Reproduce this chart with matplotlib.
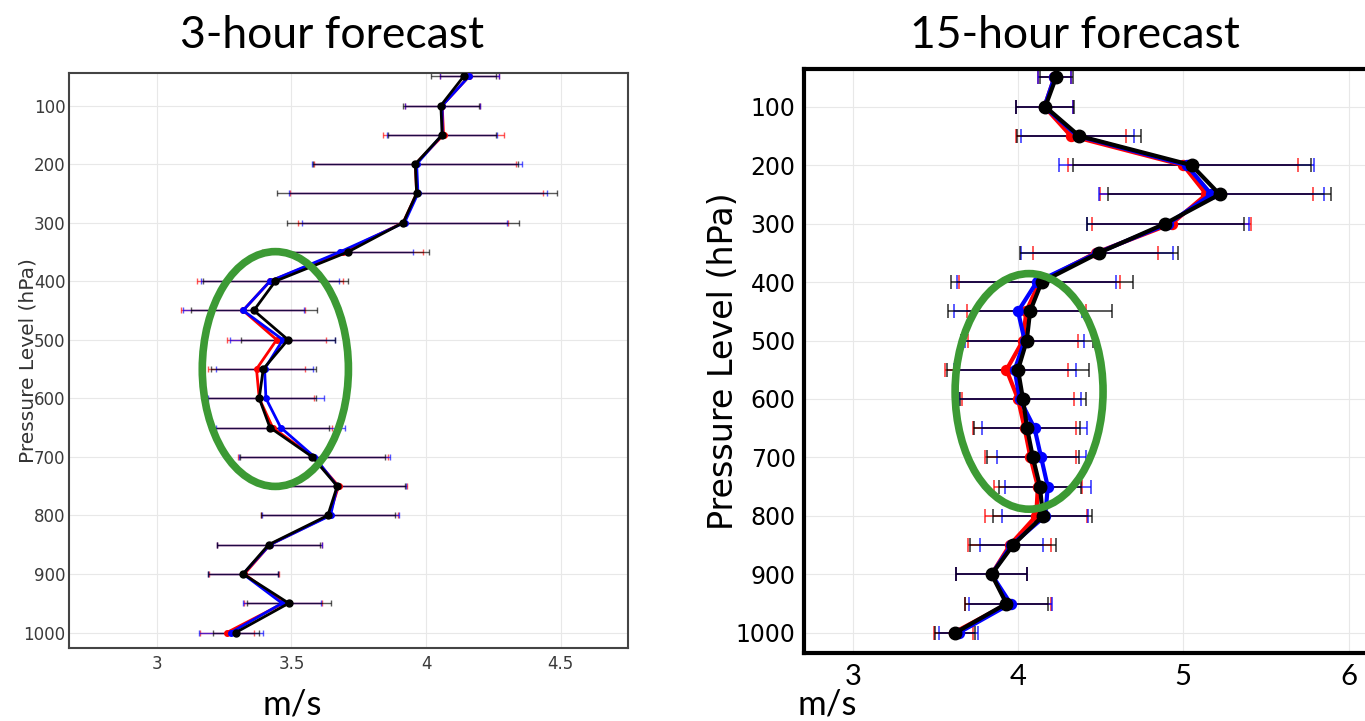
import numpy as np
import matplotlib.pyplot as plt
from matplotlib.patches import Ellipse

levels = np.arange(50, 1001, 50)

# 3-hour forecast (m/s)
red_3h = [4.16, 4.06, 4.065, 3.96, 3.965, 3.915, 3.69, 3.42, 3.32, 3.445,
          3.37, 3.38, 3.43, 3.58, 3.675, 3.64, 3.42, 3.325, 3.47, 3.26]
blue_3h = [4.16, 4.06, 4.06, 3.965, 3.97, 3.92, 3.68, 3.42, 3.32, 3.468,
           3.40, 3.405, 3.46, 3.585, 3.67, 3.645, 3.42, 3.32, 3.465, 3.275]
black_3h = [4.14, 4.055, 4.06, 3.96, 3.965, 3.915, 3.71, 3.44, 3.36, 3.487,
            3.395, 3.38, 3.42, 3.577, 3.67, 3.635, 3.415, 3.32, 3.49, 3.293]
red_3h_err = [0.11, 0.14, 0.225, 0.375, 0.47, 0.39, 0.30, 0.27, 0.23, 0.185,
              0.18, 0.205, 0.22, 0.28, 0.255, 0.255, 0.195, 0.13, 0.145, 0.10]
blue_3h_err = [0.11, 0.14, 0.205, 0.39, 0.48, 0.38, 0.27, 0.255, 0.225, 0.195,
               0.18, 0.215, 0.24, 0.28, 0.255, 0.255, 0.195, 0.13, 0.145, 0.12]
black_3h_err = [0.12, 0.14, 0.20, 0.38, 0.52, 0.43, 0.30, 0.27, 0.235, 0.175,
                0.195, 0.21, 0.22, 0.27, 0.25, 0.25, 0.19, 0.13, 0.155, 0.085]

# 15-hour forecast (m/s)
red_15h = [4.22, 4.16, 4.32, 5.0, 5.14, 4.93, 4.47, 4.13, 4.05, 4.03,
           3.93, 4.0, 4.04, 4.075, 4.12, 4.11, 3.95, 3.84, 3.94, 3.61]
blue_15h = [4.22, 4.16, 4.36, 5.02, 5.17, 4.91, 4.48, 4.113, 4.0, 4.04,
            3.98, 4.01, 4.10, 4.14, 4.18, 4.165, 3.96, 3.84, 3.955, 3.64]
black_15h = [4.23, 4.165, 4.37, 5.05, 5.22, 4.89, 4.49, 4.143, 4.073, 4.053,
             4.0, 4.03, 4.055, 4.09, 4.133, 4.15, 3.97, 3.84, 3.93, 3.62]
red_15h_err = [0.10, 0.175, 0.335, 0.695, 0.645, 0.48, 0.38, 0.485, 0.36, 0.33,
               0.37, 0.34, 0.31, 0.275, 0.265, 0.31, 0.25, 0.215, 0.26, 0.12]
blue_15h_err = [0.10, 0.175, 0.34, 0.77, 0.68, 0.49, 0.46, 0.48, 0.39, 0.36,
                0.37, 0.37, 0.32, 0.27, 0.26, 0.26, 0.19, 0.215, 0.25, 0.12]
black_15h_err = [0.10, 0.175, 0.375, 0.72, 0.675, 0.475, 0.48, 0.55, 0.495, 0.40,
                 0.43, 0.38, 0.32, 0.28, 0.25, 0.30, 0.26, 0.215, 0.25, 0.12]

green = '#3c9a34'
narrow = ['Liberation Sans Narrow', 'DejaVu Sans']
title_font = ['Lato', 'DejaVu Sans']


def draw_panel(ax, series, errs, lw, ms, cap, elw):
    colors = ['red', 'blue', 'black']
    for vals, err, c in zip(series, errs, colors):
        ax.errorbar(vals, levels, xerr=err, fmt='none', ecolor=c,
                    elinewidth=elw, capsize=cap, capthick=elw, alpha=0.65,
                    zorder=2)
    for vals, c in zip(series, colors):
        ax.plot(vals, levels, color=c, lw=lw, marker='o',
                ms=ms if c == 'black' else ms * 0.8, zorder=3)
    ax.grid(True, color='#e8e8e8', lw=0.8)
    ax.set_axisbelow(True)
    ax.tick_params(length=0)


fig = plt.figure(figsize=(13.65, 7.21), dpi=100)

# left panel: 3-hour forecast
ax1 = fig.add_axes([0.0505, 0.1008, 0.4095, 0.7983])
draw_panel(ax1, [red_3h, blue_3h, black_3h],
           [red_3h_err, blue_3h_err, black_3h_err],
           lw=2.0, ms=5, cap=2, elw=1.0)
ax1.set_xlim(2.673, 4.75)
ax1.set_ylim(1027, 44)
ax1.set_yticks(np.arange(100, 1001, 100))
ax1.set_xticks([3, 3.5, 4, 4.5])
ax1.set_xticklabels(['3', '3.5', '4', '4.5'])
for lab in ax1.get_xticklabels() + ax1.get_yticklabels():
    lab.set_family(narrow)
    lab.set_fontsize(12)
    lab.set_color('#3a3a3a')
ax1.tick_params(axis='x', pad=5)
ax1.tick_params(axis='y', pad=2.5)
for s in ax1.spines.values():
    s.set_color('#444444')
    s.set_linewidth(1.5)
ax1.set_ylabel('Pressure Level (hPa)', fontsize=14.5, color='#333333')
ax1.yaxis.set_label_coords(-0.057, 0.5)
ax1.add_patch(Ellipse((3.44, 550), 0.543, 401, fill=False, ec=green, lw=5.5,
                      zorder=4, clip_on=False))

# right panel: 15-hour forecast
ax2 = fig.add_axes([0.589, 0.0939, 0.4147, 0.81])
draw_panel(ax2, [red_15h, blue_15h, black_15h],
           [red_15h_err, blue_15h_err, black_15h_err],
           lw=3.0, ms=9, cap=5, elw=1.4)
ax2.set_xlim(2.705, 6.13)
ax2.set_ylim(1035, 36)
ax2.set_yticks(np.arange(100, 1001, 100))
ax2.set_xticks([3, 4, 5, 6])
for lab in ax2.get_yticklabels():
    lab.set_fontsize(17)
for lab in ax2.get_xticklabels():
    lab.set_family(title_font)
    lab.set_fontsize(21)
ax2.tick_params(axis='x', pad=8)
ax2.tick_params(axis='y', pad=6)
for s in ax2.spines.values():
    s.set_color('black')
    s.set_linewidth(3)
ax2.set_ylabel('Pressure Level (hPa)', fontsize=24)
ax2.yaxis.set_label_coords(-0.113, 0.5)
ax2.add_patch(Ellipse((4.067, 587), 0.895, 403, fill=False, ec=green, lw=5.5,
                      zorder=4, clip_on=False))

# titles and unit labels
fig.text(332 / 1365, 1 - 36 / 721, '3-hour forecast', ha='center', va='center',
         family=title_font, fontsize=32)
fig.text(1075 / 1365, 1 - 36 / 721, '15-hour forecast', ha='center', va='center',
         family=title_font, fontsize=32)
fig.text(292 / 1365, 1 - 704 / 721, 'm/s', ha='center', va='center',
         family=title_font, fontsize=25)
fig.text(827 / 1365, 1 - 704 / 721, 'm/s', ha='center', va='center',
         family=title_font, fontsize=25)

fig.savefig('out.png', dpi=100)
